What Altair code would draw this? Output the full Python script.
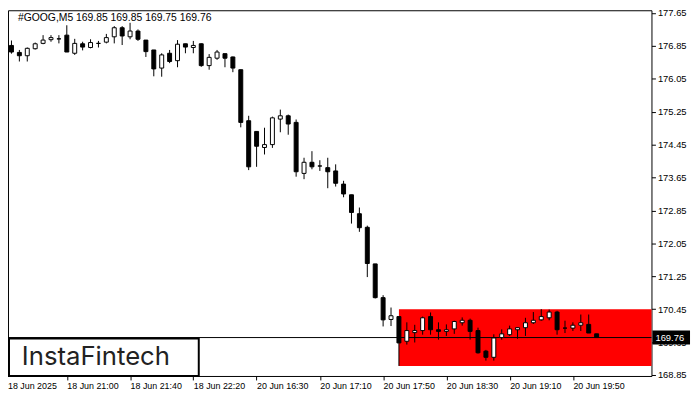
import json
import pandas as pd
import altair as alt

# ---------------- data ----------------
opens = [
    177.11, 176.86, 176.69, 176.61, 176.78, 176.91, 177.00, 177.02, 177.11, 176.67,
    176.90, 176.81, 176.91, 176.94, 177.07, 177.29, 177.07, 177.21, 176.99, 176.75,
    176.31, 176.67, 176.49, 176.90, 176.81, 176.90, 176.37, 176.55, 176.66, 176.58,
    176.27, 175.03, 174.77, 174.38, 174.45, 175.07, 175.15, 174.99, 173.75, 174.02,
    173.93, 173.89, 173.81, 173.49, 173.23, 172.77, 172.44, 171.55, 170.73, 170.20,
    170.27, 169.67, 169.88, 169.93, 170.27, 169.95, 169.91, 169.97, 170.12, 170.18,
    169.93, 169.43, 169.28, 169.76, 169.83, 169.95, 170.00, 170.12, 170.19, 170.24,
    170.38, 169.99, 169.99, 170.06, 170.08, 169.85]
highs = [
    177.15, 176.98, 176.75, 176.81, 176.93, 177.11, 177.11, 177.11, 177.35, 177.02,
    176.95, 177.01, 176.97, 177.14, 177.33, 177.33, 177.41, 177.25, 176.99, 176.75,
    176.67, 176.75, 176.99, 176.90, 176.97, 176.91, 176.65, 176.75, 176.66, 176.59,
    176.27, 175.15, 174.77, 174.86, 175.13, 175.30, 175.18, 175.06, 174.13, 174.29,
    174.07, 174.13, 173.97, 173.57, 173.23, 172.92, 172.48, 171.55, 170.79, 170.49,
    170.27, 170.13, 170.07, 170.27, 170.37, 170.13, 170.08, 170.17, 170.25, 170.22,
    170.00, 169.46, 169.84, 169.96, 170.05, 170.01, 170.24, 170.38, 170.45, 170.44,
    170.41, 170.17, 170.13, 170.32, 170.32, 169.85]
lows = [
    176.90, 176.66, 176.47, 176.47, 176.76, 176.89, 176.95, 176.91, 176.70, 176.63,
    176.74, 176.79, 176.81, 176.91, 176.91, 176.87, 177.01, 176.97, 176.58, 176.11,
    176.10, 176.43, 176.33, 176.67, 176.67, 176.34, 176.27, 176.51, 176.33, 176.21,
    174.87, 173.83, 173.91, 174.21, 174.37, 174.75, 174.69, 173.67, 173.61, 173.85,
    173.81, 173.39, 173.43, 173.17, 172.53, 172.33, 171.23, 170.71, 170.03, 170.04,
    169.07, 169.59, 169.64, 169.83, 169.83, 169.71, 169.80, 169.85, 170.05, 169.71,
    169.37, 169.20, 169.20, 169.71, 169.80, 169.73, 169.80, 170.09, 170.17, 170.18,
    169.83, 169.87, 169.92, 169.92, 169.87, 169.75]
closes = [
    176.91, 176.70, 176.61, 176.79, 176.90, 176.99, 177.05, 177.02, 176.70, 176.91,
    176.82, 176.93, 176.91, 177.05, 177.29, 177.09, 177.21, 177.01, 176.71, 176.29,
    176.63, 176.47, 176.89, 176.82, 176.86, 176.37, 176.57, 176.70, 176.55, 176.31,
    174.99, 173.91, 174.41, 174.45, 175.10, 175.15, 174.95, 173.79, 174.02, 173.91,
    173.93, 173.79, 173.51, 173.25, 172.80, 172.43, 171.56, 170.73, 170.19, 170.29,
    169.63, 169.93, 169.93, 170.24, 169.95, 169.91, 169.95, 170.15, 170.18, 169.91,
    169.39, 169.28, 169.75, 169.85, 169.97, 170.00, 170.12, 170.18, 170.27, 170.38,
    169.95, 169.99, 170.06, 170.12, 169.87, 169.76]

x_tick_idx = [0, 8, 16, 24, 32, 40, 48, 56, 64, 72]
x_tick_labels = ["18 Jun 2025", "18 Jun 21:00", "18 Jun 21:40", "18 Jun 22:20",
                 "20 Jun 16:30", "20 Jun 17:10", "20 Jun 17:50", "20 Jun 18:30",
                 "20 Jun 19:10", "20 Jun 19:50"]
y_ticks = [168.85, 169.65, 170.45, 171.25, 172.05, 172.85, 173.65, 174.45,
           175.25, 176.05, 176.85, 177.65]
title_text = "#GOOG,M5  169.85 169.85 169.75 169.76"
last_price = [169.76]
zone_start = [50]
zone_top = [170.45]
zone_bottom = [169.07]
logo_text = ["InstaFintech"]

# ---------------- layout ----------------
W, H = 651, 370
x_dom = [0.5625, 0.5625 + W / 8.0]
y_dom = [168.826, 168.826 + H / 41.625]
FONT = "Liberation Sans"

df = pd.DataFrame({"idx": list(range(len(opens))), "o": opens, "h": highs,
                   "l": lows, "c": closes})
df["top"] = df[["o", "c"]].max(axis=1)
df["bot"] = df[["o", "c"]].min(axis=1)
df["kind"] = ["up" if c >= o else "down" for o, c in zip(opens, closes)]
df["x0"] = df["idx"] - 0.25
df["x1"] = df["idx"] + 0.25

xs = alt.Scale(domain=x_dom, nice=False, zero=False)
ys = alt.Scale(domain=y_dom, nice=False, zero=False)

label_expr = (json.dumps(x_tick_labels) + "[indexof(" + json.dumps(x_tick_idx)
              + ", datum.value)]")
x_axis = alt.Axis(values=x_tick_idx, labelExpr=label_expr, orient="bottom",
                  tickSize=4, tickColor="black", domain=False, grid=False,
                  labelAlign="left", labelBaseline="top", labelPadding=2,
                  labelFont=FONT, labelFontSize=9, labelColor="black",
                  labelFlush=False, labelOverlap=False, title=None)
y_axis = alt.Axis(values=y_ticks, format=".2f", orient="right", tickSize=4,
                  tickColor="black", domain=False, grid=False, labelPadding=2,
                  labelFont=FONT, labelFontSize=9.5, labelColor="black",
                  labelOverlap=False, labelFlush=False, title=None)

zone_df = pd.DataFrame({"x0": zone_start, "x1": [x_dom[1] + 5],
                        "y0": zone_top, "y1": zone_bottom})
zone = alt.Chart(zone_df).mark_rect(color="#ff0000", clip=True).encode(
    x=alt.X("x0:Q", scale=xs, axis=x_axis), x2="x1:Q",
    y=alt.Y("y0:Q", scale=ys, axis=y_axis), y2="y1:Q")

price_df = pd.DataFrame({"p": last_price})
price_df["pt"] = price_df["p"] + 0.17
price_df["pb"] = price_df["p"] - 0.17
price_line = alt.Chart(price_df).mark_rule(color="black", strokeWidth=1).encode(
    y=alt.Y("p:Q", scale=ys, axis=y_axis))

wicks = alt.Chart(df).mark_rule(color="black", strokeWidth=1, clip=True).encode(
    x=alt.X("idx:Q", scale=xs, axis=x_axis),
    y=alt.Y("h:Q", scale=ys, axis=y_axis), y2="l:Q")

bodies = alt.Chart(df).mark_rect(stroke="black", strokeWidth=1, clip=True).encode(
    x=alt.X("x0:Q", scale=xs, axis=x_axis), x2="x1:Q",
    y=alt.Y("top:Q", scale=ys, axis=y_axis), y2="bot:Q",
    fill=alt.Fill("kind:N", scale=alt.Scale(domain=["up", "down"],
                                            range=["white", "black"]), legend=None))

title_df = pd.DataFrame({"t": [title_text]})
title = alt.Chart(title_df).mark_text(
    align="left", baseline="alphabetic", font=FONT, fontSize=10.5, color="black"
).encode(x=alt.value(10), y=alt.value(11), text="t:N")

first_df = pd.DataFrame({"t": [x_tick_labels[0]]})
first_label = alt.Chart(first_df).mark_text(
    align="left", baseline="top", font=FONT, fontSize=9, color="black"
).encode(x=alt.value(0), y=alt.value(H + 6), text="t:N")

logo_df = pd.DataFrame({"t": logo_text})
logo_box = alt.Chart(logo_df).mark_rect(
    fill="white", stroke="black", strokeWidth=2
).encode(x=alt.value(1), x2=alt.value(193), y=alt.value(332), y2=alt.value(370))
logo_txt = alt.Chart(logo_df).mark_text(
    align="left", baseline="alphabetic", font="Inter", fontSize=26,
    fontWeight=400, color="#222222"
).encode(x=alt.value(14), y=alt.value(359), text="t:N")

price_box = alt.Chart(price_df).mark_rect(color="black").encode(
    x=alt.value(W + 1), x2=alt.value(W + 39),
    y=alt.Y("pt:Q", scale=ys, axis=y_axis), y2="pb:Q")
price_txt = alt.Chart(price_df).mark_text(
    align="left", baseline="middle", font=FONT, fontSize=9.5, color="white"
).encode(x=alt.value(W + 4), y=alt.Y("p:Q", scale=ys, axis=y_axis),
         text=alt.Text("p:Q", format=".2f"))

chart = alt.layer(
    zone, price_line, wicks, bodies, title, first_label,
    logo_box, logo_txt, price_box, price_txt
).properties(
    width=W, height=H,
    padding={"left": 0, "top": 0, "right": 41, "bottom": 22},
    autosize=alt.AutoSizeParams(type="none"),
    background="white",
).configure_view(stroke="black", strokeWidth=1)

chart.save("out.html", embed_options={"renderer": "svg", "actions": False})
